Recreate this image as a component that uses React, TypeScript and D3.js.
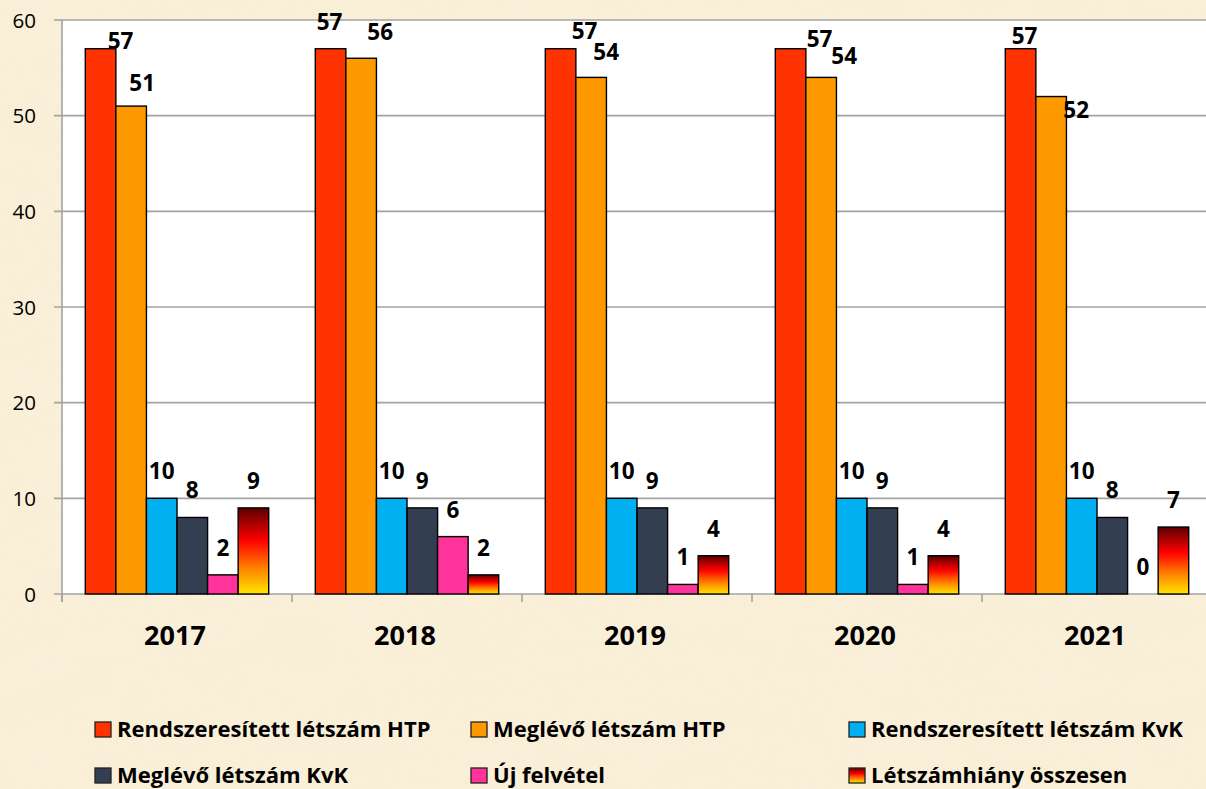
import React from "react";
import * as d3 from "d3";

const years = ["2017", "2018", "2019", "2020", "2021"];
const seriesNames = [
  "Rendszeresített létszám HTP",
  "Meglévő létszám HTP",
  "Rendszeresített létszám KvK",
  "Meglévő létszám KvK",
  "Új felvétel",
  "Létszámhiány összesen",
];
const rendszHTP = [57, 57, 57, 57, 57];
const meglevoHTP = [51, 56, 54, 54, 52];
const rendszKvK = [10, 10, 10, 10, 10];
const meglevoKvK = [8, 9, 9, 9, 8];
const ujFelvetel = [2, 6, 1, 1, 0];
const letszamhiany = [9, 2, 4, 4, 7];
const yTicks = [0, 10, 20, 30, 40, 50, 60];

const seriesValues = [rendszHTP, meglevoHTP, rendszKvK, meglevoKvK, ujFelvetel, letszamhiany];
const colors = ["#ff3300", "#ff9900", "#00b0f0", "#333f50", "#ff3399", "url(#hiany)"];

// manual label nudges (dx, dy) for the crowded top labels, as in the original
const labelNudge: Record<string, [number, number]> = {
  "0-0": [20, 19], "0-1": [11, 4],
  "1-0": [-1, 0], "1-1": [19, 1],
  "2-0": [24, 9], "2-1": [15, 2],
  "3-0": [29, 17], "3-1": [23, 6],
  "4-0": [4, 14], "4-1": [25, 40],
};

const W = 1206;
const H = 789;
const plotLeft = 62;
const plotTop = 20;
const plotBottom = 594;
const font = "'Open Sans', sans-serif";

export default function App() {
  const x = d3.scaleBand<string>().domain(years).range([plotLeft, plotLeft + 230 * years.length]);
  const inner = d3
    .scaleBand<number>()
    .domain(d3.range(seriesNames.length))
    .range([23.3, 23.3 + 30.57 * 6]);
  const y = d3.scaleLinear().domain([0, 60]).range([plotBottom, plotTop]);

  const legendCols = [95, 471, 849];
  const legendRows = [722, 768];

  return (
    <svg width={W} height={H} style={{ position: "absolute", left: 0, top: 0 }} fontFamily={font}>
      <defs>
        <linearGradient id="hiany" x1="0" y1="0" x2="0" y2="1">
          <stop offset="0" stopColor="#5c0000" />
          <stop offset="0.38" stopColor="#ff0000" />
          <stop offset="0.68" stopColor="#ff7a00" />
          <stop offset="1" stopColor="#ffe600" />
        </linearGradient>
        <filter id="noise">
          <feTurbulence type="fractalNoise" baseFrequency="0.012 0.03" numOctaves="3" seed="4" />
          <feColorMatrix
            type="matrix"
            values="0 0 0 0 0.88  0 0 0 0 0.78  0 0 0 0 0.6  0 0 0 0.3 0"
          />
        </filter>
      </defs>
      <rect x={0} y={0} width={W} height={H} fill="#faefd8" />
      <rect x={0} y={0} width={W} height={H} filter="url(#noise)" opacity={0.4} />

      {/* plot area */}
      <rect x={plotLeft} y={plotTop} width={W - plotLeft} height={plotBottom - plotTop} fill="#ffffff" />

      {/* gridlines */}
      {yTicks.map((t) => (
        <line key={t} x1={54} x2={W} y1={y(t)} y2={y(t)} stroke="#a3a3a3" strokeWidth={1.6} />
      ))}
      {yTicks.map((t) => (
        <text key={"l" + t} x={36} y={y(t) + 7.5} textAnchor="end" fontSize={20.5} fill="#000">
          {t}
        </text>
      ))}
      {/* y axis */}
      <line x1={plotLeft} x2={plotLeft} y1={plotTop} y2={plotBottom + 8} stroke="#a3a3a3" strokeWidth={1.6} />
      {/* category ticks */}
      {years.map((yr) => (
        <line
          key={"t" + yr}
          x1={x(yr)!}
          x2={x(yr)!}
          y1={plotBottom}
          y2={plotBottom + 8}
          stroke="#a3a3a3"
          strokeWidth={1.6}
        />
      ))}

      {/* bars */}
      {years.map((yr, yi) =>
        seriesValues.map((vals, si) => {
          const v = vals[yi];
          if (v === 0) return null;
          const bx = x(yr)! + inner(si)!;
          return (
            <rect
              key={yr + "-" + si}
              x={bx}
              y={y(v)}
              width={inner.bandwidth()}
              height={plotBottom - y(v)}
              fill={colors[si]}
              stroke="#000"
              strokeWidth={1.4}
            />
          );
        })
      )}

      {/* value labels */}
      {years.map((yr, yi) =>
        seriesValues.map((vals, si) => {
          const v = vals[yi];
          const cx = x(yr)! + inner(si)! + inner.bandwidth() / 2;
          const nudge = labelNudge[yi + "-" + si] || [0, 0];
          return (
            <text
              key={"v" + yr + "-" + si}
              x={cx + nudge[0]}
              y={y(v) - 19 + nudge[1]}
              textAnchor="middle"
              fontSize={22.5}
              fontWeight="bold"
              fill="#000"
            >
              {v}
            </text>
          );
        })
      )}

      {/* category labels */}
      {years.map((yr) => (
        <text
          key={"c" + yr}
          x={x(yr)! + x.bandwidth() / 2 - 2}
          y={645}
          textAnchor="middle"
          fontSize={27}
          fontWeight="bold"
          fill="#000"
        >
          {yr}
        </text>
      ))}

      {/* legend */}
      {seriesNames.map((name, i) => {
        const col = i % 3;
        const row = Math.floor(i / 3);
        const lx = legendCols[col];
        const ly = legendRows[row];
        return (
          <g key={"lg" + i}>
            <rect x={lx} y={ly} width={16} height={15} fill={colors[i]} stroke="#222" strokeWidth={1.3} />
            <text x={lx + 22} y={ly + 14.5} fontSize={22} fontWeight="bold" fill="#000">
              {name}
            </text>
          </g>
        );
      })}
    </svg>
  );
}
